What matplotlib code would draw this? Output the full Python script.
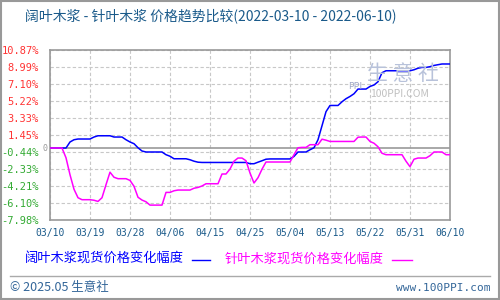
import matplotlib
matplotlib.use('Agg')
import matplotlib.pyplot as plt
from matplotlib.patches import Rectangle, Polygon
from matplotlib.lines import Line2D

plt.rcParams['font.family'] = ['Noto Sans CJK SC', 'DejaVu Sans']

# x axis: sample index 0..100, ticks every 10
tick_labels = ['03/10', '03/19', '03/28', '04/06', '04/15', '04/25',
               '05/04', '05/13', '05/22', '05/31', '06/10']
y_ticks = [10.87, 8.99, 7.10, 5.22, 3.33, 1.45, -0.44, -2.33, -4.21, -6.10, -7.98]

# 阔叶木浆现货价格变化幅度 (%)
hardwood = [0.00, 0.00, 0.00, 0.00, 0.00, 0.67, 0.92, 1.00, 1.00, 1.00,
            1.00, 1.22, 1.36, 1.36, 1.36, 1.36, 1.22, 1.22, 1.22, 0.92,
            0.67, 0.48, 0.03, -0.33, -0.44, -0.44, -0.44, -0.44, -0.44, -0.74,
            -0.91, -1.19, -1.19, -1.19, -1.19, -1.30, -1.46, -1.57, -1.60, -1.60,
            -1.60, -1.60, -1.60, -1.60, -1.60, -1.60, -1.60, -1.60, -1.60, -1.60,
            -1.74, -1.74, -1.57, -1.41, -1.24, -1.21, -1.21, -1.21, -1.21, -1.21,
            -1.21, -0.93, -0.44, -0.44, -0.44, -0.19, 0.03, 0.92, 2.47, 4.03,
            4.72, 4.72, 4.72, 5.13, 5.47, 5.72, 6.02, 6.54, 6.54, 6.54,
            6.83, 6.99, 7.35, 8.35, 8.57, 8.57, 8.57, 8.57, 8.57, 8.57,
            8.57, 8.68, 8.85, 8.94, 8.94, 9.02, 9.16, 9.24, 9.32, 9.32,
            9.32]

# 针叶木浆现货价格变化幅度 (%)
softwood = [0.00, 0.00, 0.00, 0.00, -1.08, -2.96, -4.57, -5.51, -5.73, -5.73,
            -5.73, -5.79, -5.92, -5.51, -4.07, -2.68, -3.24, -3.40, -3.40, -3.40,
            -3.59, -4.24, -5.46, -5.77, -5.96, -6.33, -6.33, -6.33, -6.33, -4.92,
            -4.92, -4.74, -4.66, -4.66, -4.66, -4.66, -4.46, -4.37, -4.21, -3.96,
            -3.96, -3.96, -3.96, -2.88, -2.88, -2.33, -1.46, -1.11, -1.11, -1.41,
            -2.77, -3.88, -3.29, -2.35, -1.55, -1.55, -1.55, -1.55, -1.55, -1.55,
            -1.55, -0.74, 0.03, 0.07, 0.07, 0.37, 0.37, 0.37, 0.98, 0.87,
            0.73, 0.73, 0.73, 0.73, 0.73, 0.73, 0.73, 1.20, 1.22, 1.22,
            0.73, 0.53, 0.14, -0.58, -0.74, -0.74, -0.74, -0.74, -0.74, -1.46,
            -2.07, -1.24, -1.11, -1.11, -1.11, -0.85, -0.44, -0.44, -0.44, -0.74,
            -0.74]

x = list(range(len(hardwood)))

fig = plt.figure(figsize=(5, 3), dpi=100)
ax = fig.add_axes([0.1, 0.2667, 0.8, 0.5666])

ax.plot(x, hardwood, color='#0000ff', lw=1.1, zorder=3)
ax.plot(x, softwood, color='#ff00ff', lw=1.1, zorder=3)

ax.set_xlim(0, 100)
ax.set_ylim(-7.98, 10.87)
ax.set_xticks(range(0, 101, 10))
ax.set_xticklabels(tick_labels, family='DejaVu Sans Mono', fontsize=7, color='#1a5a8a')
ax.set_yticks(y_ticks)
ax.set_yticklabels(['%.2f%%' % v for v in y_ticks], family='DejaVu Sans Mono', fontsize=7.5)
for lbl, v in zip(ax.get_yticklabels(), y_ticks):
    lbl.set_color('#ff3333' if v > 0 else '#33aa33')
ax.tick_params(length=0, pad=8)
ax.tick_params(axis='x', pad=6)
ax.grid(True, color='#c8c8c8', ls=(0, (3, 2)), lw=0.8)
ax.axhline(0, color='#999999', lw=1.2, zorder=2)
for s in ax.spines.values():
    s.set_color('#999999')
    s.set_linewidth(1.2)
# zero marker, placed between the tick labels and the axis
ax.text(-0.006, 0, '0', transform=ax.get_yaxis_transform(), color='#999999',
        fontsize=6, family='DejaVu Sans Mono', va='center', ha='right')

# watermark
fig.add_artist(Polygon([[0.68, 0.72], [0.71, 0.8], [0.74, 0.72]], closed=True,
                       transform=fig.transFigure, color='#f4b8b8', zorder=0))
fig.add_artist(Polygon([[0.68, 0.705], [0.71, 0.645], [0.74, 0.705]], closed=True,
                       transform=fig.transFigure, color='#c0e8c0', zorder=0))
fig.text(0.71, 0.712, 'PPI', color='#a0a8c8', fontsize=6.5, ha='center', va='center')
fig.text(0.805, 0.755, '生 意 社', color='#b8c2da', fontsize=15, ha='center', va='center')
fig.text(0.8, 0.688, '100PPI.COM', color='#c0c0c0', fontsize=7.5, ha='center', va='center')

# title
fig.text(0.05, 0.947, '阔叶木浆 - 针叶木浆 价格趋势比较(2022-03-10 - 2022-06-10)',
         color='#1a5a8a', fontsize=10, va='center')

# legend
fig.text(0.05, 0.135, '阔叶木浆现货价格变化幅度', color='#0000ff', fontsize=9.5, va='center')
fig.add_artist(Line2D([0.384, 0.42], [0.135, 0.135], color='#0000ff', lw=1,
                      transform=fig.transFigure))
fig.text(0.45, 0.135, '针叶木浆现货价格变化幅度', color='#ff00ff', fontsize=9.5, va='center')
fig.add_artist(Line2D([0.784, 0.824], [0.135, 0.135], color='#ff00ff', lw=1,
                      transform=fig.transFigure))

# footer
fig.add_artist(Line2D([0.02, 0.98], [0.08, 0.08], color='#aaaaaa', lw=1,
                      transform=fig.transFigure))
fig.text(0.02, 0.04, '© 2025.05 生意社', color='#336699', fontsize=9, va='center')
fig.text(0.98, 0.04, 'www.100PPI.com', color='#336699', fontsize=8,
         family='DejaVu Sans Mono', va='center', ha='right')

fig.add_artist(Rectangle((0.001, 0.002), 0.997, 0.995, transform=fig.transFigure,
                         fill=False, ec='#999999', lw=1.5))

fig.savefig('out.png', dpi=100)
